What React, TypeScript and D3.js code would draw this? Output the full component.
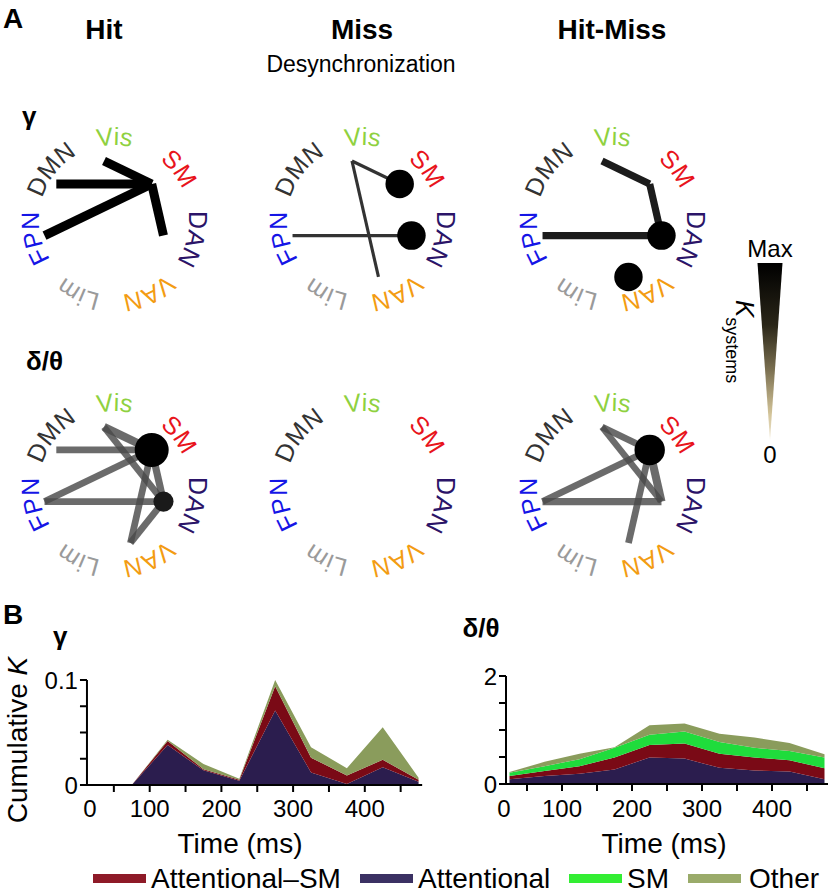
import React from "react";
import * as d3 from "d3";

// ---------- Data ----------
const systems = ["Vis", "SM", "DAN", "VAN", "Lim", "FPN", "DMN"];
const systemColors = ["#8fd13f", "#e8141c", "#2b1468", "#f39c12", "#9a9a9a", "#1515e6", "#333333"];
const columnTitles = ["Hit", "Miss", "Hit-Miss"];
const bandTitles = ["γ", "δ/θ"];

// edges: [from, to, K (relative)]
const hitGammaEdges: [string, string, number][] = [["DMN", "SM", 1], ["FPN", "SM", 1], ["Vis", "SM", 1], ["SM", "DAN", 1]];
const missGammaEdges: [string, string, number][] = [["Vis", "SM", 0.35], ["Vis", "VAN", 0.35], ["FPN", "DAN", 0.35]];
const hitMissGammaEdges: [string, string, number][] = [["Vis", "SM", 0.8], ["SM", "DAN", 0.8], ["FPN", "DAN", 0.8]];
const hitDeltaEdges: [string, string, number][] = [
  ["DMN", "SM", 0.75], ["FPN", "SM", 0.75], ["FPN", "DAN", 0.75], ["Vis", "SM", 0.9],
  ["Vis", "DAN", 0.75], ["SM", "DAN", 0.8], ["SM", "VAN", 0.75], ["DAN", "VAN", 0.75],
];
const missDeltaEdges: [string, string, number][] = [];
const hitMissDeltaEdges: [string, string, number][] = [
  ["Vis", "SM", 0.75], ["Vis", "DAN", 0.7], ["FPN", "SM", 0.75], ["FPN", "DAN", 0.8],
  ["SM", "DAN", 0.9], ["SM", "VAN", 0.75],
];
// within-system desynchronization dots: [system, K]
const hitGammaDots: [string, number][] = [];
const missGammaDots: [string, number][] = [["SM", 0.7], ["DAN", 0.7]];
const hitMissGammaDots: [string, number][] = [["DAN", 0.7], ["VAN", 0.7]];
const hitDeltaDots: [string, number][] = [["SM", 1], ["DAN", 0.35]];
const missDeltaDots: [string, number][] = [];
const hitMissDeltaDots: [string, number][] = [["SM", 0.8]];

// Panel B time series
const times = [25, 75, 125, 175, 225, 275, 325, 375, 425, 475];
const gammaAttentional = [0, 0, 0.038, 0.014, 0.004, 0.071, 0.012, 0.001, 0.017, 0.003];
const gammaAttentionalSM = [0, 0, 0.004, 0.001, 0.001, 0.023, 0.014, 0.008, 0.007, 0.002];
const gammaSM = [0, 0, 0, 0, 0, 0, 0, 0, 0, 0];
const gammaOther = [0, 0, 0.001, 0.005, 0.001, 0.006, 0.01, 0.007, 0.031, 0.002];
const deltaAttentional = [0.09, 0.15, 0.19, 0.27, 0.49, 0.47, 0.3, 0.25, 0.23, 0.09];
const deltaAttentionalSM = [0.06, 0.09, 0.14, 0.22, 0.23, 0.28, 0.26, 0.24, 0.21, 0.2];
const deltaSM = [0.06, 0.09, 0.13, 0.18, 0.19, 0.22, 0.22, 0.18, 0.17, 0.2];
const deltaOther = [0.01, 0.08, 0.1, 0.01, 0.18, 0.15, 0.15, 0.19, 0.15, 0.06];

const seriesKeys = ["Attentional", "Attentional–SM", "SM", "Other"];
const seriesColors = ["#2b1d4e", "#7a0a16", "#1fdc3c", "#8a9c5c"];
const legendOrder = ["Attentional–SM", "Attentional", "SM", "Other"];
const legendColors = ["#8e1a28", "#3b3163", "#33ee33", "#9aab6a"];

const xTickValues = [0, 100, 200, 300, 400];
const gammaYLabels = [0, 0.1];
const deltaYLabels = [0, 2];

// ---------- Layout ----------
const FONT = "'Liberation Sans', Arial, Helvetica, sans-serif";
const colX = [114, 362, 612];
const rowY = [220, 486];
const labelR = 75;
const nodeR = 61;
const nodeDx = -10;
const nodeDy = 2;

const edgeSets = [
  [hitGammaEdges, missGammaEdges, hitMissGammaEdges],
  [hitDeltaEdges, missDeltaEdges, hitMissDeltaEdges],
];
const dotSets = [
  [hitGammaDots, missGammaDots, hitMissGammaDots],
  [hitDeltaDots, missDeltaDots, hitMissDeltaDots],
];
const panelStyles = [
  [{ stroke: "#000", opacity: 1 }, { stroke: "#333", opacity: 1 }, { stroke: "#1c1c1c", opacity: 1 }],
  [{ stroke: "#4a4a4a", opacity: 0.82 }, { stroke: "#4a4a4a", opacity: 0.82 }, { stroke: "#4a4a4a", opacity: 0.82 }],
];

const angleOf = (i: number) => (i * 2 * Math.PI) / systems.length;

function NetworkPanel({ row, col }: { row: number; col: number }) {
  const cx = colX[col];
  const cy = rowY[row];
  const ncx = cx + nodeDx;
  const ncy = cy + nodeDy;
  const pos = (name: string) => {
    const a = angleOf(systems.indexOf(name));
    return [ncx + nodeR * Math.sin(a), ncy - nodeR * Math.cos(a)];
  };
  const widthScale = d3.scaleLinear().domain([0, 1]).range([0, 9]);
  const dotScale = d3.scaleSqrt().domain([0, 1]).range([0, 17]);
  const style = panelStyles[row][col];
  const id = `lab-${row}-${col}`;
  const R = labelR;
  const pathD = `M ${cx},${cy + R} A ${R},${R} 0 1,1 ${cx},${cy - R} A ${R},${R} 0 1,1 ${cx},${cy + R}`;
  const circ = 2 * Math.PI * R;
  return (
    <g>
      <path id={id} d={pathD} fill="none" stroke="none" />
      {systems.map((s, i) => {
        const deg = (angleOf(i) * 180) / Math.PI;
        const off = (((deg - 180 + 360) % 360) / 360) * circ;
        return (
          <text key={s} fontFamily={FONT} fontSize={25} fill={systemColors[i]} textAnchor="middle">
            <textPath href={`#${id}`} startOffset={off}>{s}</textPath>
          </text>
        );
      })}
      {edgeSets[row][col].map(([a, b, k], i) => {
        const [x1, y1] = pos(a);
        const [x2, y2] = pos(b);
        return (
          <line key={i} x1={x1} y1={y1} x2={x2} y2={y2} stroke={style.stroke} strokeOpacity={style.opacity}
            strokeWidth={widthScale(k)} strokeLinecap="butt" />
        );
      })}
      {dotSets[row][col].map(([s, k], i) => {
        const [x, y] = pos(s);
        return <circle key={i} cx={x} cy={y} r={dotScale(k)} fill={k < 0.5 ? "#1a1a1a" : "#000"} />;
      })}
    </g>
  );
}

type ChartProps = {
  data: number[][];
  x: d3.ScaleLinear<number, number>;
  y: d3.ScaleLinear<number, number>;
  axisStart: number;
  axisEnd: number;
  yMinor: number[];
  yLabels: number[];
  fmt: (v: number) => string;
};

function AreaChart({ data, x, y, axisStart, axisEnd, yMinor, yLabels, fmt }: ChartProps) {
  const rows = times.map((t, i) => {
    const o: any = { t };
    seriesKeys.forEach((k, j) => (o[k] = data[j][i]));
    return o;
  });
  const stack = d3.stack<any>().keys(seriesKeys)(rows);
  const area = d3
    .area<any>()
    .x((d) => x(d.data.t))
    .y0((d) => y(d[0]))
    .y1((d) => y(d[1]));
  const y0 = y(0);
  const xStart = x(axisStart);
  const xTicks = d3.range(50, 451, 50);
  return (
    <g>
      {stack.map((s, i) => (
        <path key={i} d={area(s) || ""} fill={seriesColors[i]} />
      ))}
      <line x1={xStart} x2={x(axisEnd)} y1={y0} y2={y0} stroke="#000" strokeWidth={2} />
      <line x1={xStart} x2={xStart} y1={y0 + 1} y2={y(yLabels[1])} stroke="#000" strokeWidth={2} />
      {yMinor.map((v) => (
        <line key={v} x1={xStart - 7} x2={xStart} y1={y(v)} y2={y(v)} stroke="#000" strokeWidth={2} />
      ))}
      {yLabels.map((v) => (
        <text key={v} x={xStart - 9} y={y(v) + 8.5} textAnchor="end" fontFamily={FONT} fontSize={24}>
          {fmt(v)}
        </text>
      ))}
      {xTicks.map((t) => (
        <line key={t} x1={x(t)} x2={x(t)} y1={y0} y2={y0 + 7} stroke="#000" strokeWidth={2} />
      ))}
      {xTickValues.map((t) => (
        <text key={t} x={t === 0 ? x(t) + 12 : x(t)} y={817} textAnchor="middle" fontFamily={FONT} fontSize={24}>
          {t}
        </text>
      ))}
    </g>
  );
}

export default function App() {
  const xL = d3.scaleLinear().domain([0, 500]).range([78, 78 + 358.5]);
  const yL = d3.scaleLinear().domain([0, 0.1]).range([785, 680]);
  const xR = d3.scaleLinear().domain([0, 500]).range([492, 842]);
  const yR = d3.scaleLinear().domain([0, 2]).range([784, 676]);

  const legendX = [[93, 151], [360, 418], [569, 627], [688, 749]];

  return (
    <svg width={829} height={895} style={{ display: "block", position: "absolute", left: 0, top: 0 }}
      fontFamily={FONT}>
      <rect width={829} height={895} fill="#fff" />
      <defs>
        <linearGradient id="kgrad" x1="0" y1="0" x2="0" y2="1">
          <stop offset="0" stopColor="#000" />
          <stop offset="0.35" stopColor="#2a2618" />
          <stop offset="0.6" stopColor="#7a6f50" />
          <stop offset="0.85" stopColor="#d2c398" />
          <stop offset="1" stopColor="#eee6d0" />
        </linearGradient>
      </defs>

      {/* Panel A */}
      <text x={3} y={28} fontSize={28} fontWeight="bold">A</text>
      {columnTitles.map((t, i) => (
        <text key={t} x={colX[i] - (i === 0 ? 10 : 0)} y={39} fontSize={28} fontWeight="bold" textAnchor="middle">
          {t}
        </text>
      ))}
      <text x={361} y={72} fontSize={23} textAnchor="middle">Desynchronization</text>
      <text x={22} y={125} fontSize={26} fontWeight="bold">{bandTitles[0]}</text>
      <text x={26} y={370} fontSize={26} fontWeight="bold">{bandTitles[1]}</text>

      {[0, 1].map((r) => [0, 1, 2].map((c) => <NetworkPanel key={`${r}-${c}`} row={r} col={c} />))}

      {/* colour wedge */}
      <text x={770} y={257} fontSize={24} textAnchor="middle">Max</text>
      <polygon points="757.5,263 782.5,263 770,440" fill="url(#kgrad)" />
      <text x={770} y={463} fontSize={24} textAnchor="middle">0</text>
      <text transform="translate(736,300) rotate(90)" fontSize={26}>
        <tspan fontStyle="italic">K</tspan>
        <tspan fontSize={18} dy={10}>systems</tspan>
      </text>

      {/* Panel B */}
      <text x={3} y={624} fontSize={28} fontWeight="bold">B</text>
      <text x={53} y={645} fontSize={26} fontWeight="bold">{bandTitles[0]}</text>
      <text x={481} y={637} fontSize={26} fontWeight="bold" textAnchor="middle">{bandTitles[1]}</text>
      <text transform="translate(27,740) rotate(-90)" fontSize={28} textAnchor="middle">
        Cumulative <tspan fontStyle="italic">K</tspan>
      </text>

      <AreaChart data={[gammaAttentional, gammaAttentionalSM, gammaSM, gammaOther]} x={xL} y={yL}
        axisStart={12.5} axisEnd={480} yMinor={[0, 0.025, 0.05, 0.075, 0.1]} yLabels={gammaYLabels}
        fmt={(v) => (v === 0 ? "0" : String(v))} />
      <AreaChart data={[deltaAttentional, deltaAttentionalSM, deltaSM, deltaOther]} x={xR} y={yR}
        axisStart={20} axisEnd={480} yMinor={[0, 0.5, 1, 1.5, 2]} yLabels={deltaYLabels}
        fmt={(v) => String(v)} />

      <text x={240} y={853} fontSize={28} textAnchor="middle">Time (ms)</text>
      <text x={664} y={853} fontSize={28} textAnchor="middle">Time (ms)</text>

      {legendOrder.map((k, i) => (
        <g key={k}>
          <rect x={legendX[i][0]} y={874} width={53} height={9} fill={legendColors[i]} />
          <text x={legendX[i][1]} y={888} fontSize={28}>{k}</text>
        </g>
      ))}
    </svg>
  );
}
